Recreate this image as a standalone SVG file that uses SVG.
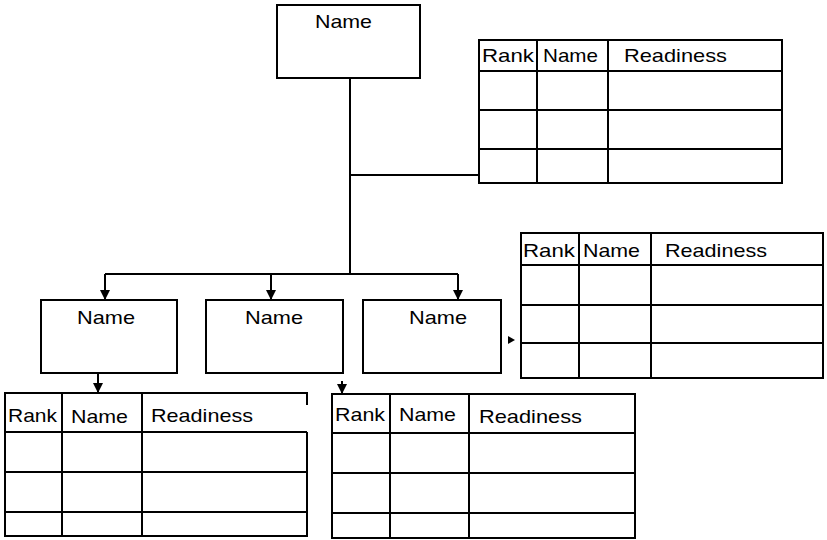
<svg xmlns="http://www.w3.org/2000/svg" width="827" height="540" viewBox="0 0 827 540">
  <style>
    .box { fill: #fff; stroke: #000; stroke-width: 2; }
    .ln { fill: none; stroke: #000; stroke-width: 2; }
    .wire { fill: none; stroke: #000; stroke-width: 2; }
    text { font-family: "Liberation Sans", Arial, sans-serif; font-size: 19px; fill: #000; }
  </style>
  <defs>
    <marker id="arrow" viewBox="0 0 10 10" refX="10" refY="5" markerWidth="5" markerHeight="5" orient="auto" markerUnits="strokeWidth">
      <path d="M0,0 L10,5 L0,10 Z" fill="#000"/>
    </marker>
  </defs>
  <rect width="827" height="540" fill="#fff"/>

  <!-- connectors -->
  <g id="connectors">
    <path class="wire" d="M350,78 V274"/>
    <path class="wire" d="M350,175 H479"/>
    <path class="wire" d="M105,274 H458"/>
    <path class="wire" d="M105,274 V300" marker-end="url(#arrow)"/>
    <path class="wire" d="M271,274 V300" marker-end="url(#arrow)"/>
    <path class="wire" d="M458,274 V300" marker-end="url(#arrow)"/>
    <path class="wire" d="M98,373 V393" marker-end="url(#arrow)"/>
    <path class="wire" d="M342,381 V394" marker-end="url(#arrow)"/>
    <path d="M508,336 L515,340 L508,344 Z" fill="#000"/>
  </g>

  <!-- person boxes -->
  <g id="node-top">
    <rect class="box" x="277" y="5" width="143" height="73"/>
    <text x="315" y="28" textLength="57" lengthAdjust="spacingAndGlyphs">Name</text>
  </g>
  <g id="node-1">
    <rect class="box" x="41" y="300" width="136" height="73"/>
    <text x="77" y="324" textLength="58" lengthAdjust="spacingAndGlyphs">Name</text>
  </g>
  <g id="node-2">
    <rect class="box" x="206" y="300" width="137" height="73"/>
    <text x="245" y="324" textLength="58" lengthAdjust="spacingAndGlyphs">Name</text>
  </g>
  <g id="node-3">
    <rect class="box" x="363" y="300" width="138" height="73"/>
    <text x="409" y="324" textLength="58" lengthAdjust="spacingAndGlyphs">Name</text>
  </g>

  <!-- succession tables -->
  <g id="table-top">
    <rect class="box" x="479" y="40" width="303" height="143"/>
    <path class="ln" d="M479,71 H782 M479,110 H782 M479,149 H782 M537,40 V183 M608,40 V183"/>
    <text x="482" y="62" textLength="52" lengthAdjust="spacingAndGlyphs">Rank</text>
    <text x="543" y="62" textLength="55" lengthAdjust="spacingAndGlyphs">Name</text>
    <text x="624" y="62" textLength="103" lengthAdjust="spacingAndGlyphs">Readiness</text>
  </g>
  <g id="table-right">
    <rect class="box" x="521" y="233" width="302" height="145"/>
    <path class="ln" d="M521,265 H823 M521,305 H823 M521,343 H823 M579,233 V378 M651,233 V378"/>
    <text x="523" y="257" textLength="52" lengthAdjust="spacingAndGlyphs">Rank</text>
    <text x="583" y="257" textLength="57" lengthAdjust="spacingAndGlyphs">Name</text>
    <text x="665" y="257" textLength="102" lengthAdjust="spacingAndGlyphs">Readiness</text>
  </g>
  <g id="table-left">
    <path class="ln" d="M307,405 V393 H5 V536 H307 V432"/>
    <path class="ln" d="M5,432 H307 M5,472 H307 M5,512 H307 M62,393 V536 M142,393 V536"/>
    <text x="8" y="422" textLength="49" lengthAdjust="spacingAndGlyphs">Rank</text>
    <text x="71" y="423" textLength="57" lengthAdjust="spacingAndGlyphs">Name</text>
    <text x="151" y="422" textLength="102" lengthAdjust="spacingAndGlyphs">Readiness</text>
  </g>
  <g id="table-middle">
    <rect class="box" x="332" y="394" width="303" height="144"/>
    <path class="ln" d="M332,433 H635 M332,473 H635 M332,513 H635 M390,394 V538 M469,394 V538"/>
    <text x="335" y="421" textLength="50" lengthAdjust="spacingAndGlyphs">Rank</text>
    <text x="399" y="421" textLength="57" lengthAdjust="spacingAndGlyphs">Name</text>
    <text x="479" y="423" textLength="103" lengthAdjust="spacingAndGlyphs">Readiness</text>
  </g>
</svg>
